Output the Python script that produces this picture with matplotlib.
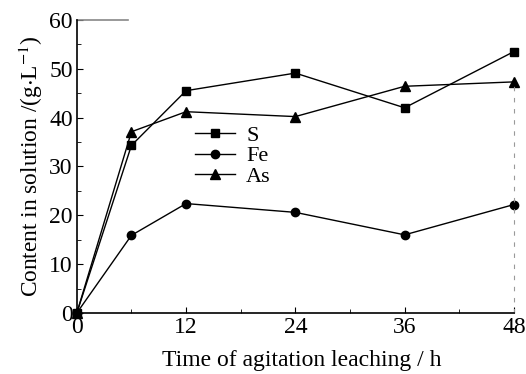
import matplotlib
matplotlib.use("Agg")
import matplotlib.pyplot as plt
from matplotlib.ticker import MultipleLocator

plt.rcParams['font.family'] = ['Liberation Serif', 'DejaVu Serif']
plt.rcParams['mathtext.fontset'] = 'stix'

time_h = [0, 6, 12, 24, 36, 48]
s_vals = [0, 34.3, 45.5, 49.1, 42.0, 53.5]
fe_vals = [0, 15.9, 22.4, 20.6, 16.0, 22.2]
as_vals = [0, 37.1, 41.2, 40.2, 46.4, 47.3]
x_ticks = [0, 12, 24, 36, 48]
y_ticks = [0, 10, 20, 30, 40, 50, 60]

fig = plt.figure(figsize=(5.26, 3.74), dpi=100)
ax = fig.add_axes([0.146, 0.163, 0.831, 0.784])

ax.plot(time_h, s_vals, '-s', color='black', lw=1.0, ms=6, label='S', clip_on=False)
ax.plot(time_h, fe_vals, '-o', color='black', lw=1.0, ms=6, label='Fe', clip_on=False)
ax.plot(time_h, as_vals, '-^', color='black', lw=1.0, ms=7, label='As', clip_on=False)

ax.set_xlim(0, 48)
ax.set_ylim(0, 60)
ax.set_xticks(x_ticks)
ax.set_yticks(y_ticks)
ax.xaxis.set_minor_locator(MultipleLocator(6))
ax.yaxis.set_minor_locator(MultipleLocator(5))
ax.tick_params(which='both', direction='in', labelsize=17, top=False, right=False)
ax.tick_params(which='major', length=4, pad=3)
ax.tick_params(which='minor', length=3)

ax.spines['top'].set_visible(False)
ax.spines['right'].set_visible(False)
ax.spines['left'].set_linewidth(1.2)
ax.spines['bottom'].set_linewidth(1.2)
ax.plot([0, 0.117], [1, 1], transform=ax.transAxes, color='#888888', lw=1.2, clip_on=False)
ax.plot([1, 1], [0, 0.78], transform=ax.transAxes, color='#999999', lw=0.8,
        linestyle=(0, (4, 6)), clip_on=False)

ax.set_xlabel('Time of agitation leaching / h', fontsize=17, labelpad=1)
ax.xaxis.set_label_coords(0.515, -0.125)
ax.set_ylabel(r'Content in solution /(g$\cdot$L$^{-1}$)', fontsize=16.8, labelpad=3)

ax.legend(loc='center left', bbox_to_anchor=(0.245, 0.535), frameon=False, fontsize=16,
          handlelength=1.8, handletextpad=0.5, labelspacing=0.0, borderpad=0)

fig.savefig('out.png', dpi=100)
